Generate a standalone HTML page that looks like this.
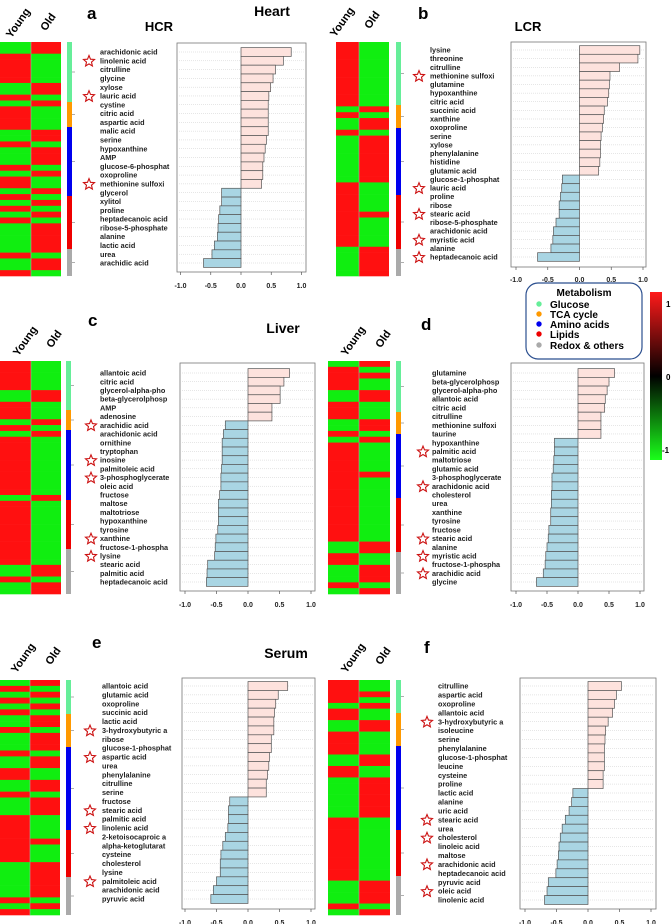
<!DOCTYPE html>
<html><head><meta charset="utf-8"><style>
body{margin:0;background:#fff;width:672px;height:924px;overflow:hidden}
svg{display:block}
text{font-family:"Liberation Sans",Arial,sans-serif}
</style></head><body>
<svg id="fig" width="672" height="924" viewBox="0 0 672 924" xmlns="http://www.w3.org/2000/svg">
<g id="static">
<text x="272" y="16" font-size="14" font-weight="bold" text-anchor="middle">Heart</text>
<text x="283" y="333" font-size="14" font-weight="bold" text-anchor="middle">Liver</text>
<text x="286" y="658" font-size="14" font-weight="bold" text-anchor="middle">Serum</text>
<g>
<rect x="526" y="283" width="116" height="76" rx="12" fill="#fff" stroke="#2b4f8f" stroke-width="1.2"/>
<text x="584" y="296" font-size="10" font-weight="bold" text-anchor="middle">Metabolism</text>
<circle cx="539" cy="304" r="2.7" fill="#66ee99"/><text x="550" y="308" font-size="10" font-weight="bold">Glucose</text>
<circle cx="539" cy="314" r="2.7" fill="#ff9900"/><text x="550" y="318" font-size="10" font-weight="bold">TCA cycle</text>
<circle cx="539" cy="324" r="2.7" fill="#0000ee"/><text x="550" y="328" font-size="10" font-weight="bold">Amino acids</text>
<circle cx="539" cy="334" r="2.7" fill="#ee0000"/><text x="550" y="338" font-size="10" font-weight="bold">Lipids</text>
<circle cx="539" cy="345" r="2.7" fill="#aaaaaa"/><text x="550" y="349" font-size="10" font-weight="bold">Redox &amp; others</text>
</g>
<defs><linearGradient id="cb" x1="0" y1="0" x2="0" y2="1">
<stop offset="0" stop-color="#ff1a1a"/><stop offset="0.5" stop-color="#000"/><stop offset="1" stop-color="#1aff1a"/></linearGradient></defs>
<g>
<rect x="650" y="292" width="12" height="168" fill="url(#cb)"/>
<text x="666" y="307" font-size="8" font-weight="bold">1</text>
<text x="666" y="380" font-size="8" font-weight="bold">0</text>
<text x="662" y="453" font-size="8" font-weight="bold">-1</text>
</g>
</g>
</svg>
<script>
// ---------- DATA ----------
const labelsA=["arachidonic acid","linolenic acid","citrulline","glycine","xylose","lauric acid","cystine","citric acid","aspartic acid","malic acid","serine","hypoxanthine","AMP","glucose-6-phosphat","oxoproline","methionine sulfoxi","glycerol","xylitol","proline","heptadecanoic acid","ribose-5-phosphate","alanine","lactic acid","urea","arachidic acid"];
const valuesA=[0.83,0.70,0.57,0.53,0.49,0.46,0.45,0.45,0.45,0.45,0.42,0.40,0.38,0.36,0.36,0.34,-0.32,-0.32,-0.35,-0.37,-0.38,-0.39,-0.44,-0.48,-0.62];
const starsA=[1,5,15];
const labelsB=["lysine","threonine","citrulline","methionine sulfoxi","glutamine","hypoxanthine","citric acid","succinic acid","xanthine","oxoproline","serine","xylose","phenylalanine","histidine","glutamic acid","glucose-1-phosphat","lauric acid","proline","ribose","stearic acid","ribose-5-phosphate","arachidonic acid","myristic acid","alanine","heptadecanoic acid"];
const valuesB=[0.95,0.92,0.63,0.48,0.47,0.46,0.44,0.39,0.38,0.36,0.34,0.33,0.33,0.32,0.30,-0.27,-0.28,-0.30,-0.32,-0.32,-0.37,-0.41,-0.42,-0.45,-0.66];
const starsB=[3,16,19,22,24];
const labelsC=["allantoic acid","citric acid","glycerol-alpha-pho","beta-glycerolphosp","AMP","adenosine","arachidic acid","arachidonic acid","ornithine","tryptophan","inosine","palmitoleic acid","3-phosphoglycerate","oleic acid","fructose","maltose","maltotriose","hypoxanthine","tyrosine","xanthine","fructose-1-phospha","lysine","stearic acid","palmitic acid","heptadecanoic acid"];
const valuesC=[0.66,0.57,0.51,0.51,0.38,0.38,-0.36,-0.39,-0.41,-0.41,-0.41,-0.42,-0.43,-0.43,-0.45,-0.47,-0.47,-0.47,-0.48,-0.51,-0.52,-0.53,-0.64,-0.65,-0.66];
const starsC=[6,10,12,19,21];
const labelsD=["glutamine","beta-glycerolphosp","glycerol-alpha-pho","allantoic acid","citric acid","citrulline","methionine sulfoxi","taurine","hypoxanthine","palmitic acid","maltotriose","glutamic acid","3-phosphoglycerate","arachidonic acid","cholesterol","urea","xanthine","tyrosine","fructose","stearic acid","alanine","myristic acid","fructose-1-phospha","arachidic acid","glycine"];
const valuesD=[0.59,0.50,0.47,0.44,0.43,0.37,0.37,0.37,-0.38,-0.38,-0.39,-0.40,-0.42,-0.42,-0.43,-0.43,-0.44,-0.44,-0.47,-0.48,-0.50,-0.52,-0.53,-0.56,-0.67];
const starsD=[9,13,19,21,23];
const labelsE=["allantoic acid","glutamic acid","oxoproline","succinic acid","lactic acid","3-hydroxybutyric a","ribose","glucose-1-phosphat","aspartic acid","urea","phenylalanine","citrulline","serine","fructose","stearic acid","palmitic acid","linolenic acid","2-ketoisocaproic a","alpha-ketoglutarat","cysteine","cholesterol","lysine","palmitoleic acid","arachidonic acid","pyruvic acid"];
const valuesE=[0.63,0.48,0.44,0.42,0.41,0.41,0.37,0.37,0.34,0.33,0.31,0.29,0.29,-0.29,-0.31,-0.31,-0.32,-0.36,-0.40,-0.43,-0.44,-0.44,-0.50,-0.55,-0.59];
const starsE=[5,8,14,16,22];
const labelsF=["citrulline","aspartic acid","oxoproline","allantoic acid","3-hydroxybutyric a","isoleucine","serine","phenylalanine","glucose-1-phosphat","leucine","cysteine","proline","lactic acid","alanine","uric acid","stearic acid","urea","cholesterol","linoleic acid","maltose","arachidonic acid","heptadecanoic acid","pyruvic acid","oleic acid","linolenic acid"];
const valuesF=[0.53,0.45,0.42,0.39,0.32,0.28,0.27,0.26,0.26,0.26,0.24,0.24,-0.24,-0.26,-0.30,-0.36,-0.41,-0.44,-0.46,-0.47,-0.49,-0.51,-0.63,-0.65,-0.69];
const starsF=[4,15,17,20,23];
const ticks=[-1.0,-0.5,0.0,0.5,1.0];
const tickLabels=["-1.0","-0.5","0.0","0.5","1.0"];
const heatYoungA="GGRRRRRGGRGRRRRGGRGGGRGRRGRGRGRGGGGGRGGR";
const heatOldA  ="RRGGGGGRRGRGGGGRRGRRRGRGGRGRGRGRRRRRGRRG";
const heatYoungB="RRRRRRRRRRRGRGGRGGGGGGGGRRRRRRRRRRRGGGGG";
const heatOldB  ="GGGGGGGGGGGRGRRGRRRRRRRRGGGGGRGGGGGRRRRR";
const heatYoungC="RRRRRGGRRRGRGRRRRRRRRRRGRRRRRRRRRRRGGRGG";
const heatOldC  ="GGGGGRRGGGRGRGGGGGGGGGGRGGGGGGGGGGGRRGRR";
const heatYoungD="GRRRRGGRRRGGRGRRRRRRRRRRRRRRRRRGGRRGGGRG";
const heatOldD  ="RGRGGRRGGGRRGRGGGGGRGGGGGGGGGGGRRGGRRRGR";
const heatYoungE="GRGRGRGGRGGGRGGRRGGRGGGRRRRRRRRGGGGGGRGR";
const heatOldE  ="RGRGRGRRGRRRGRRGGRRGRRRGGGGRGGGRRRRRRGRG";
const heatYoungF="RRRRGRRGGRRRRGGRRGGGGGGGRRRRRRRRRRRGGGGRG";
const heatOldF  ="GGRGRGGRRGGGGRRGGRRRRRRRGGGGGGGGGGGRRRRGR";

// ---------- LAYOUT ----------
const panels=[
 {id:"a",labels:labelsA,values:valuesA,stars:starsA,hy:heatYoungA,ho:heatOldA,
  hx:0,hm:31,hx1:61,hy0:42,hy1:276,sx:67,strip:[42,102,127,196,249,276],
  lx:100,ly0:52,ly1:263,bx0:177,bx1:306,by0:43,by1:272,zero:241,unit:60.5,ty:285,sxStar:89,
  letter:[87,19],sub:["HCR",159,31],yo:[21,25,51,24]},
 {id:"b",labels:labelsB,values:valuesB,stars:starsB,hy:heatYoungB,ho:heatOldB,
  hx:336,hm:359,hx1:389,hy0:42,hy1:276,sx:396,strip:[42,105,128,195,249,276],
  lx:430,ly0:50,ly1:257,bx0:511,bx1:646,by0:42,by1:267,zero:579.5,unit:63.5,ty:279,sxStar:419,
  letter:[418,19],sub:["LCR",528,31],yo:[345,24,375,22]},
 {id:"c",labels:labelsC,values:valuesC,stars:starsC,hy:heatYoungC,ho:heatOldC,
  hx:0,hm:31,hx1:61,hy0:361,hy1:594,sx:66,strip:[361,410,430,500,549,594],
  lx:100,ly0:373,ly1:582,bx0:180,bx1:315,by0:363,by1:591,zero:248,unit:63,ty:604,sxStar:91,
  letter:[88,326],sub:null,yo:[28,343,57,341]},
 {id:"d",labels:labelsD,values:valuesD,stars:starsD,hy:heatYoungD,ho:heatOldD,
  hx:328,hm:359,hx1:390,hy0:361,hy1:594,sx:396,strip:[361,412,434,498,552,594],
  lx:432,ly0:373,ly1:582,bx0:511,bx1:644,by0:363,by1:591,zero:578,unit:62,ty:604,sxStar:423,
  letter:[421,330],sub:null,yo:[356,343,386,341]},
 {id:"e",labels:labelsE,values:valuesE,stars:starsE,hy:heatYoungE,ho:heatOldE,
  hx:0,hm:30,hx1:60,hy0:680,hy1:915,sx:66,strip:[680,714,747,830,877,915],
  lx:102,ly0:686,ly1:899,bx0:182,bx1:315,by0:678,by1:909,zero:248,unit:63,ty:922,sxStar:90,
  letter:[92,648],sub:null,yo:[26,660,56,658]},
 {id:"f",labels:labelsF,values:valuesF,stars:starsF,hy:heatYoungF,ho:heatOldF,
  hx:328,hm:359,hx1:390,hy0:680,hy1:915,sx:396,strip:[680,713,746,830,876,915],
  lx:438,ly0:686,ly1:900,bx0:520,bx1:656,by0:678,by1:909,zero:588,unit:63,ty:922,sxStar:427,
  letter:[424,653],sub:null,yo:[356,660,386,658]}
];
const stripColors=["#66ee99","#ff9900","#0000ee","#ee0000","#aaaaaa"];
const NS="http://www.w3.org/2000/svg";
const svg=document.getElementById("fig");
function mk(tag,attrs,parent){const e=document.createElementNS(NS,tag);for(const k in attrs)e.setAttribute(k,attrs[k]);(parent||svg).appendChild(e);return e;}
function starPts(cx,cy,R,r){let p=[];for(let i=0;i<10;i++){const a=-Math.PI/2+i*Math.PI/5;const rr=i%2?r:R;p.push((cx+rr*Math.cos(a)).toFixed(1)+","+(cy+rr*Math.sin(a)).toFixed(1));}return p.join(" ");}

panels.forEach(p=>{
 const g=mk("g",{});
 
 
 const L=mk("text",{x:p.letter[0],y:p.letter[1],"font-size":17,"font-weight":"bold"},g);L.textContent=p.id;
 
 
 if(p.sub){const s=mk("text",{x:p.sub[1],y:p.sub[2],"font-size":13,"font-weight":"bold","text-anchor":"middle"},g);s.textContent=p.sub[0];
  
  }
 const ty=mk("text",{x:p.yo[0],y:p.yo[1],"font-size":11,"font-weight":"bold","text-anchor":"middle",transform:`rotate(-55 ${p.yo[0]} ${p.yo[1]})`},g);ty.textContent="Young";
 
 
 const to=mk("text",{x:p.yo[2],y:p.yo[3],"font-size":11,"font-weight":"bold","text-anchor":"middle",transform:`rotate(-55 ${p.yo[2]} ${p.yo[3]})`},g);to.textContent="Old";
 
 
 const hg=mk("g",{},g);
 
 
 const n=p.hy.length, rh=(p.hy1-p.hy0)/n;
 for(let i=0;i<n;i++){
  const y=p.hy0+i*rh;
  const c1=mk("rect",{x:p.hx,y:y,width:p.hm-p.hx,height:rh+0.3,fill:p.hy[i]==="R"?"#ff1010":"#10ee10"},hg);
  
  
  const c2=mk("rect",{x:p.hm,y:y,width:p.hx1-p.hm,height:rh+0.3,fill:p.ho[i]==="R"?"#ff1010":"#10ee10"},hg);
  
  
 }
 mk("line",{x1:p.hm,y1:p.hy0,x2:p.hm,y2:p.hy1,stroke:"#aaa","stroke-width":0.6},hg);
 const sg=mk("g",{},g);
 
 
 for(let k=0;k<5;k++){mk("rect",{x:p.sx,y:p.strip[k],width:5,height:p.strip[k+1]-p.strip[k],fill:stripColors[k]},sg);
  mk("line",{x1:p.sx+5,y1:(p.strip[k]+p.strip[k+1])/2,x2:p.sx+8,y2:(p.strip[k]+p.strip[k+1])/2,stroke:"#777","stroke-width":0.6},sg);}
 const xs=v=>p.zero+v*p.unit;
 const N=p.labels.length, step=(p.ly1-p.ly0)/(N-1);
 const ys=i=>p.ly0+i*step;
 const box=mk("rect",{x:p.bx0,y:p.by0,width:p.bx1-p.bx0,height:p.by1-p.by0,fill:"#fff",stroke:"#777","stroke-width":0.8},g);
 
 
 for(let i=0;i<N;i++){mk("line",{x1:p.bx0+2,y1:ys(i),x2:p.bx1-2,y2:ys(i),stroke:"#ccc","stroke-width":0.5,"stroke-dasharray":"1,1"},g);}
 p.values.forEach((v,i)=>{
  const x0=Math.min(xs(0),xs(v)),w=Math.abs(xs(v)-xs(0));
  const b=mk("rect",{x:x0,y:ys(i)-step/2,width:w,height:step,fill:v>=0?"#fde2dd":"#a9d5e3",stroke:"#555","stroke-width":0.7},g);
  
  
  const t=mk("text",{x:p.lx,y:ys(i)+2.6,"font-size":7.3,"font-weight":"bold",fill:"#222"},g);
  t.textContent=p.labels[i];
  
  
 });
 p.stars.forEach(i=>{
  const s=mk("polygon",{points:starPts(p.sxStar,ys(i)+0.5,5.8,2.6),fill:"#fff",stroke:"#cc1111","stroke-width":1.1},g);
  
  
 });
 ticks.forEach((tv,k)=>{
  mk("line",{x1:xs(tv),y1:p.by1,x2:xs(tv),y2:p.by1+3,stroke:"#555","stroke-width":0.7},g);
  const t=mk("text",{x:xs(tv),y:p.ty+3,"font-size":7,"font-weight":"bold","text-anchor":"middle",fill:"#222"},g);
  t.textContent=tickLabels[k];
  
  
 });
});
</script>
</body></html>
